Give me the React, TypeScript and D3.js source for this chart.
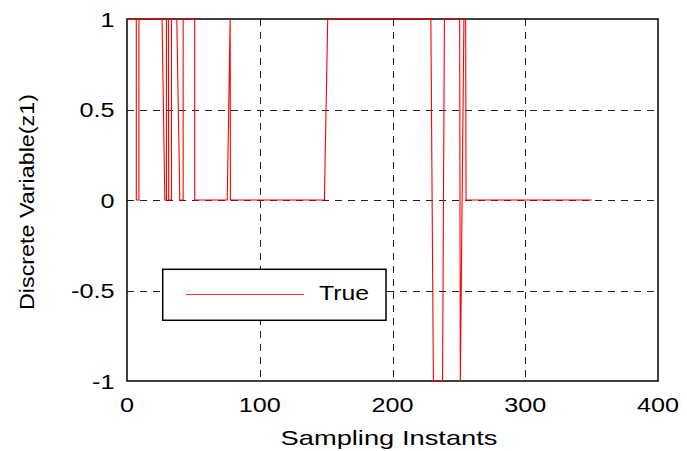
import React from 'react';
import * as d3 from 'd3';

const xTicks = [0, 100, 200, 300, 400];
const yTicks = [-1, -0.5, 0, 0.5, 1];
const yTickLabels = ['-1', '-0.5', '0', '0.5', '1'];
const xGrid = [100, 200, 300];
const yGrid = [-0.5, 0, 0.5];

// switching points of z1
const sampleX = [0, 7, 7, 9, 9, 26.4, 28.5, 29.7, 29.7, 31.2, 31.4, 33.5, 33.5, 37.5, 39.8, 42.3, 42.3, 51, 51,
  75.5, 77.7, 77.9, 148.7, 151.2, 228.9, 230.8, 237.7, 239.1, 250.6, 251.1, 253.8, 255.1, 255.4, 350];
const sampleZ = [1, 1, 0, 0, 1, 1, 0, 0, 1, 1, 0, 0, 1, 1, 0, 0, 1, 1, 0,
  0, 1, 0, 0, 1, 1, -1, -1, 1, 1, -1, 1, 1, 0, 0];

const legendLabel = 'True';
const font = '"Liberation Sans", Arial, sans-serif';

const App = () => {
  const x = d3.scaleLinear().domain([0, 400]).range([127, 658]);
  const y = d3.scaleLinear().domain([-1, 1]).range([381, 19]);

  const pts: [number, number][] = sampleX.map((v, i) => [v, sampleZ[i]]);
  const line = d3.line<[number, number]>()
    .x(d => x(d[0]))
    .y(d => y(d[1]));

  return (
    <svg width={687} height={451} style={{ position: 'absolute', left: 0, top: 0, background: '#fff' }}
      fontFamily={font}>
      {/* grid */}
      {xGrid.map(t => (
        <line key={'gx' + t} x1={Math.round(x(t)) + 0.5} x2={Math.round(x(t)) + 0.5} y1={y(1)} y2={y(-1)}
          stroke="#222" strokeWidth={1} strokeDasharray="7,6" />
      ))}
      {yGrid.map(t => (
        <line key={'gy' + t} x1={x(0)} x2={x(400)} y1={Math.round(y(t)) + 0.5} y2={Math.round(y(t)) + 0.5}
          stroke="#222" strokeWidth={1} strokeDasharray="7,6" />
      ))}

      {/* frame */}
      <rect x={x(0)} y={y(1)} width={x(400) - x(0)} height={y(-1) - y(1)} fill="none" stroke="#000" strokeWidth={1.5} />

      <path d={line(pts) || ''} fill="none" stroke="#ff0000" strokeWidth={1.1} />

      {/* tick labels */}
      {xTicks.map(t => (
        <text key={'tx' + t} transform={`translate(${x(t)},412) scale(1.2,1)`} textAnchor="middle" fontSize={21}>
          {t}
        </text>
      ))}
      {yTicks.map((t, i) => (
        <text key={'ty' + t} transform={`translate(114.5,${y(t) + 7.5}) scale(1.2,1)`} textAnchor="end" fontSize={21}>
          {yTickLabels[i]}
        </text>
      ))}

      <text x={389} y={445} textAnchor="middle" fontSize={21} textLength={217} lengthAdjust="spacingAndGlyphs">
        Sampling Instants
      </text>
      <text transform="translate(34,202) rotate(-90)" textAnchor="middle" fontSize={20} textLength={216}
        lengthAdjust="spacingAndGlyphs">
        Discrete Variable(z1)
      </text>

      {/* legend */}
      <rect x={162.7} y={269.3} width={223.3} height={51} fill="#fff" stroke="#000" strokeWidth={1.5} />
      <line x1={186} x2={304} y1={294.5} y2={294.5} stroke="#ff3333" strokeWidth={1} />
      <text transform="translate(319,300) scale(1.24,1)" fontSize={20}>{legendLabel}</text>
    </svg>
  );
};

export default App;
